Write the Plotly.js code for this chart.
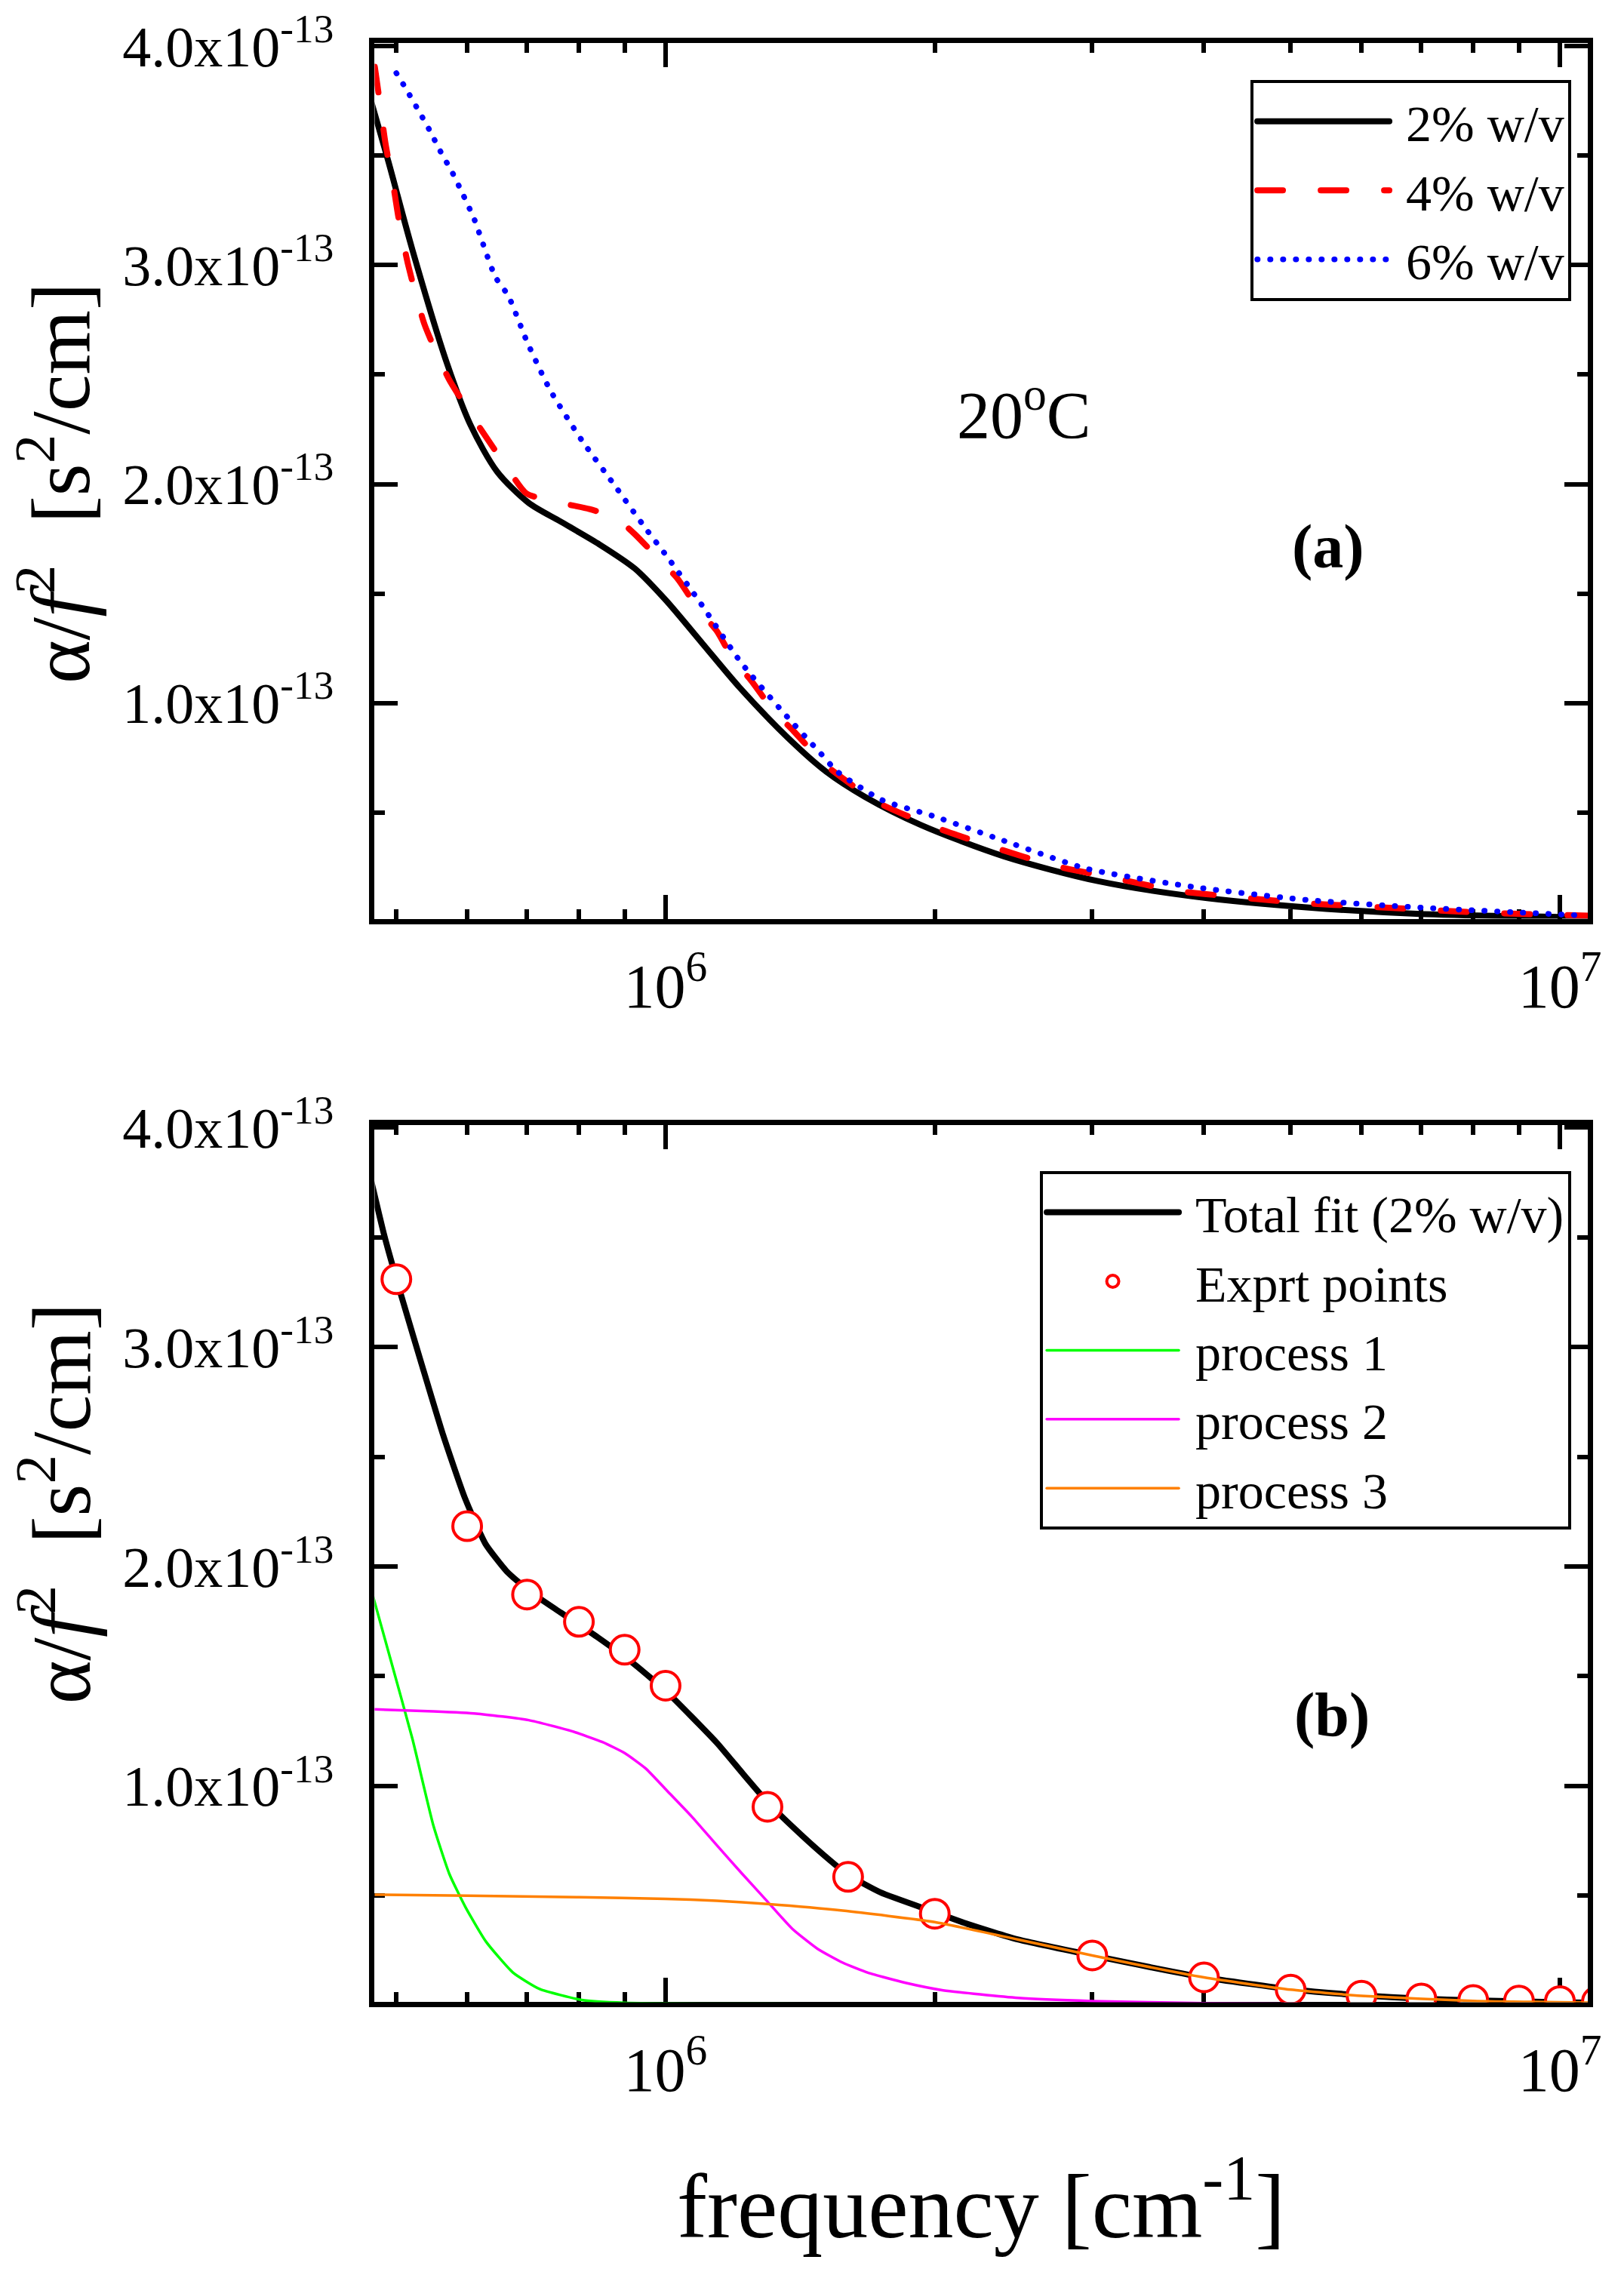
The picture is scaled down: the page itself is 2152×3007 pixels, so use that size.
<!DOCTYPE html>
<html>
<head>
<meta charset="utf-8">
<script src="https://cdn.plot.ly/plotly-3.0.1.min.js"></script>
<style>
  html, body { margin: 0; padding: 0; background: white; }
  #chart { width: 2152px; height: 3007px; }
  path.js-line { stroke-linecap: round; }
</style>
</head>
<body>
<div id="chart"></div>
<script>
// values in units of 1e-13 s^2/cm, frequency in cm^-1

// panel (a)
var freq2 = [4.69e5, 4.90e5, 5.21e5, 5.69e5, 6.05e5, 6.48e5, 7.03e5, 7.63e5, 8.40e5, 9.24e5,
             1.00e6, 1.10e6, 1.21e6, 1.369e6, 1.513e6, 1.672e6, 1.93e6, 2.39e6, 3.05e6, 3.94e6,
             5.24e6, 6.98e6, 1.00e7, 1.083e7];
var conc2 = [3.743, 3.471, 3.071, 2.557, 2.271, 2.057, 1.914, 1.829, 1.729, 1.614,
             1.471, 1.271, 1.071, 0.843, 0.686, 0.571, 0.443, 0.300, 0.186, 0.114,
             0.066, 0.037, 0.023, 0.020];

var freq4 = [4.73e5, 4.78e5, 4.86e5, 4.97e5, 5.03e5, 5.155e5, 5.376e5, 5.725e5, 6.23e5, 6.66e5,
             6.99e5, 7.63e5, 8.22e5, 8.81e5, 9.24e5, 9.83e5, 1.03e6, 1.088e6, 1.141e6, 1.19e6,
             1.248e6, 1.317e6, 1.391e6, 1.513e6, 1.733e6, 2.014e6, 2.32e6, 2.72e6, 3.18e6, 3.72e6,
             4.35e6, 5.17e6, 6.05e6, 6.98e6, 8.17e6, 9.55e6, 1.08e7];
var conc4 = [3.906, 3.774, 3.56, 3.344, 3.212, 3.0, 2.729, 2.479, 2.244, 2.071,
             1.957, 1.914, 1.886, 1.843, 1.771, 1.657, 1.571, 1.429, 1.329, 1.2,
             1.1, 0.971, 0.871, 0.714, 0.543, 0.429, 0.343, 0.257, 0.2, 0.143,
             0.114, 0.086, 0.071, 0.057, 0.043, 0.034, 0.029];

var freq6 = [5.0e5, 5.10e5, 5.27e5, 5.44e5, 5.60e5, 5.78e5, 5.94e5, 6.11e5, 6.45e5, 6.67e5,
             7.0e5, 7.43e5, 8.06e5, 8.75e5, 9.49e5, 1.003e6, 1.088e6, 1.214e6, 1.354e6, 1.49e6,
             1.557e6, 1.746e6, 1.985e6, 2.39e6, 2.96e6, 3.94e6, 5.24e6, 6.98e6, 1.07e7];
var conc6 = [3.877, 3.82, 3.72, 3.62, 3.52, 3.42, 3.32, 3.21, 2.947, 2.86,
             2.65, 2.429, 2.2, 2.0, 1.8, 1.671, 1.471, 1.186, 0.957, 0.771,
             0.686, 0.557, 0.486, 0.371, 0.243, 0.157, 0.1, 0.066, 0.029];

// panel (b)
var freqFit = [4.69e5, 4.85e5, 5.06e5, 5.34e5, 5.64e5, 5.96e5, 6.29e5, 6.64e5, 7.03e5, 7.63e5,
               8.40e5, 9.24e5, 1.003e6, 1.141e6, 1.218e6, 1.301e6, 1.386e6, 1.498e6, 1.6e6, 1.739e6,
               2.0e6, 2.18e6, 2.48e6, 3.0e6, 4.0e6, 5.0e6, 6.0e6, 7.0e6, 8.0e6, 1.0e7, 1.083e7];
var totalFit = [3.752, 3.504, 3.238, 2.918, 2.599, 2.316, 2.103, 1.979, 1.89, 1.791,
                1.677, 1.553, 1.429, 1.197, 1.06, 0.925, 0.815, 0.69, 0.595, 0.515,
                0.425, 0.37, 0.30, 0.228, 0.128, 0.074, 0.046, 0.031, 0.023, 0.015, 0.013];

var freqExp = [5e5, 6e5, 7e5, 8e5, 9e5, 1e6, 1.3e6, 1.6e6, 2e6, 3e6,
               4e6, 5e6, 6e6, 7e6, 8e6, 9e6, 1e7, 1.1e7];
var exprt = [3.309, 2.184, 1.872, 1.748, 1.621, 1.457, 0.905, 0.586, 0.418, 0.228,
             0.128, 0.072, 0.045, 0.032, 0.025, 0.022, 0.02, 0.018];

var freqP1 = [4.69e5, 4.93e5, 5.21e5, 5.50e5, 5.73e5, 5.97e5, 6.30e5, 6.75e5, 7.23e5, 8.06e5,
              9.0e5, 1.1e6, 2e6, 1.1e7];
var proc1 = [1.89, 1.571, 1.216, 0.82, 0.60, 0.45, 0.29, 0.15, 0.075, 0.025,
             0.012, 0.008, 0.006, 0.006];

var freqP2 = [4.69e5, 5.5e5, 6.14e5, 7.03e5, 7.85e5, 8.5e5, 9.0e5, 9.5e5, 1.003e6, 1.07e6,
              1.141e6, 1.218e6, 1.299e6, 1.386e6, 1.479e6, 1.578e6, 1.684e6, 1.855e6, 2.044e6, 2.48e6,
              3e6, 4e6, 6e6, 1.1e7];
var proc2 = [1.35, 1.34, 1.33, 1.30, 1.25, 1.20, 1.15, 1.08, 0.98, 0.86,
             0.73, 0.60, 0.475, 0.349, 0.258, 0.195, 0.149, 0.103, 0.069, 0.034,
             0.02, 0.01, 0.006, 0.005];

var freqP3 = [4.69e5, 6e5, 8e5, 1e6, 1.141e6, 1.299e6, 1.578e6, 2e6, 2.48e6, 3e6,
              4e6, 5e6, 6e6, 8e6, 1.1e7];
var proc3 = [0.505, 0.50, 0.493, 0.486, 0.477, 0.462, 0.432, 0.38, 0.30, 0.228,
             0.128, 0.072, 0.044, 0.021, 0.012];

// ticks
var xMajor = [1e6, 1e7];
var xMajorText = ['10<sup>6</sup>', '10<sup>7</sup>'];
var xMinor = [5e5, 6e5, 7e5, 8e5, 9e5, 2e6, 3e6, 4e6, 5e6, 6e6, 7e6, 8e6, 9e6];
var yMajor = [1, 2, 3, 4];
var yMajorText = ['1.0x10<sup>-13</sup>', '2.0x10<sup>-13</sup>', '3.0x10<sup>-13</sup>', '4.0x10<sup>-13</sup>'];
var yMinor = [0.5, 1.5, 2.5, 3.5];

var serif = 'Liberation Serif, Times New Roman, serif';
var gap = '\u00a0';

var data = [
  { x: freq2, y: conc2, name: gap + '2% w/v', mode: 'lines', type: 'scatter',
    xaxis: 'x', yaxis: 'y', legend: 'legend',
    line: { color: 'black', width: 8, shape: 'spline', smoothing: 0.8 } },
  { x: freq4, y: conc4, name: gap + '4% w/v', mode: 'lines', type: 'scatter',
    xaxis: 'x', yaxis: 'y', legend: 'legend',
    line: { color: '#ff0000', width: 8, dash: '34px,50px', shape: 'spline', smoothing: 0.6 } },
  { x: freq6, y: conc6, name: gap + '6% w/v', mode: 'lines', type: 'scatter',
    xaxis: 'x', yaxis: 'y', legend: 'legend',
    line: { color: '#0000ff', width: 7.5, dash: '0.5px,16.5px', shape: 'spline', smoothing: 0.6 } },

  { x: freqFit, y: totalFit, name: gap + 'Total fit (2% w/v)', mode: 'lines', type: 'scatter',
    xaxis: 'x2', yaxis: 'y2', legend: 'legend2',
    line: { color: 'black', width: 8, shape: 'spline', smoothing: 0.5 } },
  { x: freqExp, y: exprt, name: gap + 'Exprt points', mode: 'markers', type: 'scatter',
    xaxis: 'x2', yaxis: 'y2', legend: 'legend2',
    marker: { symbol: 'circle', size: 38, color: 'white', line: { color: '#ff0000', width: 4 } } },
  { x: freqP1, y: proc1, name: gap + 'process 1', mode: 'lines', type: 'scatter',
    xaxis: 'x2', yaxis: 'y2', legend: 'legend2',
    line: { color: '#00ff00', width: 3.5, shape: 'spline', smoothing: 0.5 } },
  { x: freqP2, y: proc2, name: gap + 'process 2', mode: 'lines', type: 'scatter',
    xaxis: 'x2', yaxis: 'y2', legend: 'legend2',
    line: { color: '#ff00ff', width: 3.5, shape: 'spline', smoothing: 0.5 } },
  { x: freqP3, y: proc3, name: gap + 'process 3', mode: 'lines', type: 'scatter',
    xaxis: 'x2', yaxis: 'y2', legend: 'legend2',
    line: { color: '#ff8000', width: 3.5, shape: 'spline', smoothing: 0.5 } }
];

function xAxis(anchor, domain) {
  return {
    type: 'log', anchor: anchor, domain: domain,
    range: [5.6747, 7.0312],
    tickmode: 'array', tickvals: xMajor, ticktext: xMajorText,
    ticks: 'inside', ticklen: 32, tickwidth: 6, tickcolor: 'black',
    minor: { tickmode: 'array', tickvals: xMinor, ticks: 'inside', ticklen: 13, tickwidth: 6, tickcolor: 'black' },
    showline: true, linewidth: 7, linecolor: 'black', mirror: 'allticks',
    showgrid: false, zeroline: false, layer: 'below traces',
    ticklabelstandoff: 12,
    tickfont: { family: serif, size: 82, color: 'black' }
  };
}

function yAxis(anchor, domain) {
  return {
    anchor: anchor, domain: domain,
    range: [0.015, 4.013],
    tickmode: 'array', tickvals: yMajor, ticktext: yMajorText,
    ticks: 'inside', ticklen: 31, tickwidth: 6, tickcolor: 'black',
    minor: { tickmode: 'array', tickvals: yMinor, ticks: 'inside', ticklen: 14, tickwidth: 6, tickcolor: 'black' },
    showline: true, linewidth: 7, linecolor: 'black', mirror: 'allticks',
    showgrid: false, zeroline: false, layer: 'below traces',
    ticklabelstandoff: 32,
    tickfont: { family: serif, size: 76, color: 'black' }
  };
}

var legendStyle = {
  xanchor: 'right', yanchor: 'top',
  bgcolor: 'white', bordercolor: 'black', borderwidth: 4,
  itemwidth: 175, tracegroupgap: 0,
  font: { family: serif, size: 68, color: 'black' }
};

var yTitle = 'α/<i>f</i><sup>2</sup>&nbsp;&nbsp;[s<sup>2</sup>/cm]';

var layout = {
  width: 2152, height: 3007,
  margin: { l: 0, r: 0, t: 0, b: 0 },
  paper_bgcolor: 'white', plot_bgcolor: 'white',
  font: { family: serif, color: 'black' },
  showlegend: true,
  xaxis: xAxis('y', [0.2307, 0.9777]),
  yaxis: yAxis('x', [0.5951, 0.9809]),
  xaxis2: xAxis('y2', [0.2307, 0.9777]),
  yaxis2: yAxis('x2', [0.1176, 0.5043]),
  legend: Object.assign({ x: 0.9675, y: 0.9647 }, legendStyle),
  legend2: Object.assign({ x: 0.9675, y: 0.4839 }, legendStyle),
  annotations: [
    { text: yTitle, xref: 'paper', yref: 'paper', x: 0.034, y: 0.7872,
      textangle: -90, showarrow: false, xanchor: 'center', yanchor: 'middle',
      font: { family: serif, size: 110, color: 'black' } },
    { text: yTitle, xref: 'paper', yref: 'paper', x: 0.034, y: 0.3375,
      textangle: -90, showarrow: false, xanchor: 'center', yanchor: 'middle',
      font: { family: serif, size: 110, color: 'black' } },
    { text: 'frequency [cm<sup>-1</sup>]', xref: 'paper', yref: 'paper', x: 0.604, y: 0.0303,
      showarrow: false, xanchor: 'center', yanchor: 'middle',
      font: { family: serif, size: 120, color: 'black' } },
    { text: '20<sup>o</sup>C', xref: 'paper', yref: 'paper', x: 0.6306, y: 0.8191,
      showarrow: false, xanchor: 'center', yanchor: 'middle',
      font: { family: serif, size: 88, color: 'black' } },
    { text: '<b>(a)</b>', xref: 'paper', yref: 'paper', x: 0.8178, y: 0.7592,
      showarrow: false, xanchor: 'center', yanchor: 'middle',
      font: { family: serif, size: 82, color: 'black' } },
    { text: '<b>(b)</b>', xref: 'paper', yref: 'paper', x: 0.8202, y: 0.2443,
      showarrow: false, xanchor: 'center', yanchor: 'middle',
      font: { family: serif, size: 82, color: 'black' } }
  ]
};

Plotly.newPlot('chart', data, layout, { staticPlot: true, displayModeBar: false });
</script>
</body>
</html>
